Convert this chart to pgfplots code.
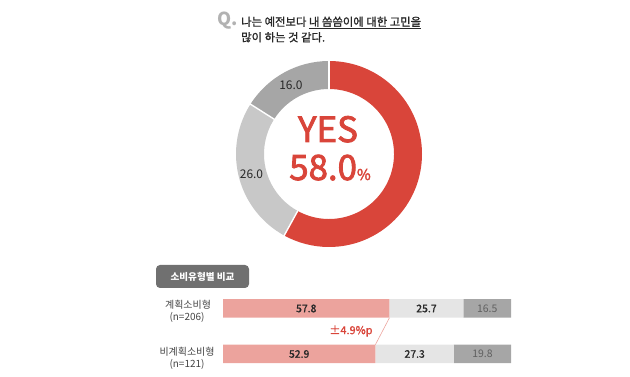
\documentclass[border=0pt]{standalone}
\usepackage{pgfplots}
\usepackage{pgfplotstable}
\pgfplotsset{compat=1.18}
\usepackage{fontspec}
\setmainfont{Noto Sans CJK KR}
\newfontfamily\medfont[FakeBold=1.2]{Noto Sans CJK KR}
\newfontfamily\bigfont[FakeBold=2.4]{Noto Sans CJK KR}
\definecolor{yesred}{RGB}{217,69,58}
\definecolor{ringlight}{RGB}{200,200,200}
\definecolor{ringdark}{RGB}{166,166,166}
\definecolor{barpink}{RGB}{236,163,157}
\definecolor{barlight}{RGB}{229,229,229}
\definecolor{bardark}{RGB}{166,166,166}
\definecolor{boxgray}{RGB}{112,112,112}
\definecolor{qgray}{RGB}{178,178,178}
\definecolor{txt}{RGB}{40,40,40}
\definecolor{lbl}{RGB}{68,68,68}

\pgfplotstableread{
label value
yes 58.0
mid 26.0
no 16.0
}\pie

\pgfplotstableread{
row a b c
1 57.8 25.7 16.5
0 52.9 27.3 19.8
}\bars

\begin{document}
\begin{tikzpicture}
\path[use as bounding box] (0bp,0bp) rectangle (630bp,377bp);

% ---------- title
\node[anchor=base west, text=qgray, font=\fontsize{18}{18}\selectfont\bfseries, inner sep=0] at (217bp,351bp) {Q.};
\node[anchor=base west, text=txt, font=\fontsize{11.4}{11.4}\selectfont\medfont, inner sep=0] at (241bp,351bp) {나는 예전보다 \underline{내 씀씀이에 대한 고민을}};
\node[anchor=base west, text=txt, font=\fontsize{11.4}{11.4}\selectfont\medfont, inner sep=0] at (241bp,335.5bp) {많이 하는 것 같다.};

% ---------- donut angles from the data
\pgfplotstablegetelem{0}{value}\of\pie \let\va\pgfplotsretval
\pgfplotstablegetelem{1}{value}\of\pie \let\vb\pgfplotsretval
\pgfplotstablegetelem{2}{value}\of\pie \let\vc\pgfplotsretval
\pgfmathsetmacro\aZ{90}
\pgfmathsetmacro\aA{90-3.6*\va}
\pgfmathsetmacro\aB{\aA-3.6*\vb}
\pgfmathsetmacro\aC{\aB-3.6*\vc}
\pgfmathsetmacro\mB{(\aA+\aB)/2}
\pgfmathsetmacro\mC{(\aB+\aC)/2}

\begin{axis}[at={(236bp,130bp)}, anchor=south west, scale only axis, width=186bp, height=186bp,
  xmin=-1, xmax=1, ymin=-1, ymax=1, hide axis, clip=false]
\coordinate (c) at (axis cs:0,0);
\fill[yesred] (c) ++(\aZ:93bp) arc[start angle=\aZ, end angle=\aA, radius=93bp]
  -- ([shift={(\aA:65bp)}]c) arc[start angle=\aA, end angle=\aZ, radius=65bp] -- cycle;
\fill[ringlight] ([shift={(\aA:93bp)}]c) arc[start angle=\aA, end angle=\aB, radius=93bp]
  -- ([shift={(\aB:65bp)}]c) arc[start angle=\aB, end angle=\aA, radius=65bp] -- cycle;
\fill[ringdark] ([shift={(\aB:93bp)}]c) arc[start angle=\aB, end angle=\aC, radius=93bp]
  -- ([shift={(\aC:65bp)}]c) arc[start angle=\aC, end angle=\aB, radius=65bp] -- cycle;
\draw[white, line width=1.4bp] ([shift={(\aZ:64bp)}]c) -- ([shift={(\aZ:94bp)}]c);
\draw[white, line width=1.4bp] ([shift={(\aA:64bp)}]c) -- ([shift={(\aA:94bp)}]c);
\draw[white, line width=1.4bp] ([shift={(\aB:64bp)}]c) -- ([shift={(\aB:94bp)}]c);
\node[text=txt, font=\fontsize{12}{12}\selectfont] at ([shift={(\mC:79bp)}]c) {16.0};
\node[text=txt, font=\fontsize{12}{12}\selectfont] at ([shift={(\mB:80bp)}]c) {26.0};
\end{axis}

\node[anchor=base, text=yesred, font=\fontsize{35}{35}\selectfont\bigfont, inner sep=0] at (328bp,235bp) {YES};
\node[anchor=base, text=yesred, font=\fontsize{35}{35}\selectfont\bigfont, inner sep=0] at (330bp,197bp) {58.0{\fontsize{15}{15}\selectfont\%}};

% ---------- comparison box
\fill[boxgray, rounded corners=4bp] (156bp,89bp) rectangle (249bp,112bp);
\node[text=white, font=\fontsize{9.6}{9.6}\selectfont\bfseries] at (202.5bp,100.5bp) {소비유형별 비교};

% ---------- row labels
\node[text=lbl, font=\fontsize{10}{10}\selectfont] at (188bp,72bp) {계획소비형};
\node[text=lbl, font=\fontsize{10}{10}\selectfont] at (187bp,60bp) {(n=206)};
\node[text=lbl, font=\fontsize{10}{10}\selectfont] at (187bp,25bp) {비계획소비형};
\node[text=lbl, font=\fontsize{10}{10}\selectfont] at (187bp,13bp) {(n=121)};

% ---------- stacked bars
\begin{axis}[at={(223bp,0.25bp)}, anchor=south west, scale only axis, width=288bp, height=91bp,
  xmin=0, xmax=100, ymin=-0.5, ymax=1.5, hide axis, xbar stacked, bar width=18.5bp, clip=false]
\addplot[fill=barpink, draw=none] table[x=a, y=row]{\bars};
\addplot[fill=barlight, draw=none] table[x=b, y=row]{\bars};
\addplot[fill=bardark, draw=none] table[x=c, y=row]{\bars};
\coordinate (p1) at (axis cs:57.8,1);
\coordinate (p2) at (axis cs:52.9,0);
\coordinate (l1a) at (axis cs:28.9,1);
\coordinate (l1b) at (axis cs:70.65,1);
\coordinate (l1c) at (axis cs:91.75,1);
\coordinate (l2a) at (axis cs:26.45,0);
\coordinate (l2b) at (axis cs:66.55,0);
\coordinate (l2c) at (axis cs:90.1,0);
\end{axis}
\draw[barpink, line width=0.6bp] ([yshift=-9.25bp]p1) -- ([yshift=9.25bp]p2);
\node[text=txt, font=\fontsize{10.5}{10.5}\selectfont\medfont] at (l1a) {57.8};
\node[text=txt, font=\fontsize{10.5}{10.5}\selectfont\medfont] at (l1b) {25.7};
\node[text=lbl!85!white, font=\fontsize{10.5}{10.5}\selectfont] at (l1c) {16.5};
\node[text=txt, font=\fontsize{10.5}{10.5}\selectfont\medfont] at (l2a) {52.9};
\node[text=txt, font=\fontsize{10.5}{10.5}\selectfont\medfont] at (l2b) {27.3};
\node[text=lbl!85!white, font=\fontsize{10.5}{10.5}\selectfont] at (l2c) {19.8};
\node[text=yesred, font=\fontsize{11}{11}\selectfont\medfont] at (351bp,46bp) {±4.9\%p};
\end{tikzpicture}
\end{document}
